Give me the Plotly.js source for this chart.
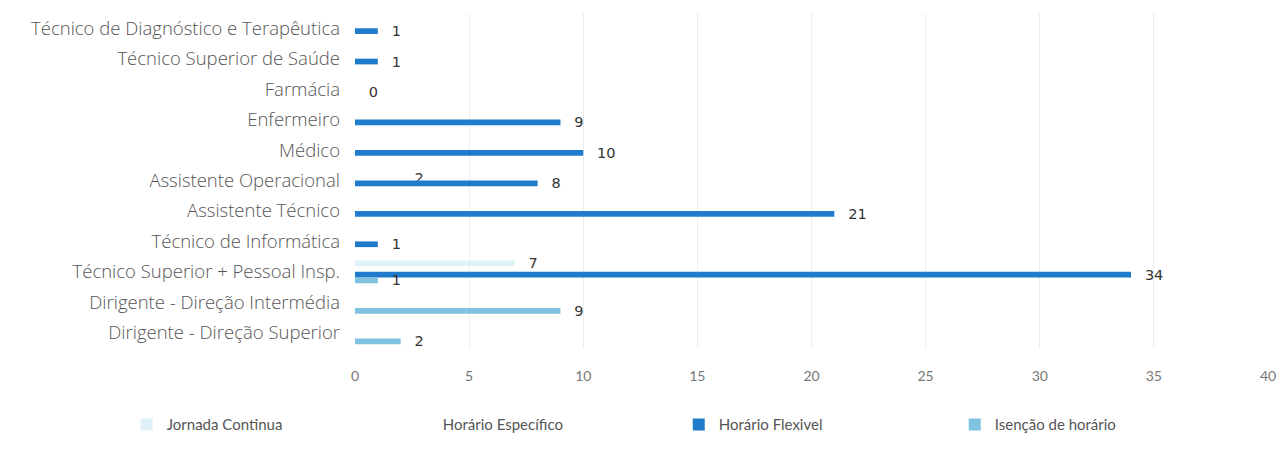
<!DOCTYPE html>
<html>
<head>
<meta charset="utf-8">
<script src="https://cdn.plot.ly/plotly-3.0.1.min.js"></script>
<style>html,body{margin:0;padding:0;background:#fff;}#chart{width:1282px;height:463px;}</style>
</head>
<body>
<div id="chart"></div>
<script>
const categories = [
  "Técnico de Diagnóstico e Terapêutica",
  "Técnico Superior de Saúde",
  "Farmácia",
  "Enfermeiro",
  "Médico",
  "Assistente Operacional",
  "Assistente Técnico",
  "Técnico de Informática",
  "Técnico Superior + Pessoal Insp.",
  "Dirigente - Direção Intermédia",
  "Dirigente - Direção Superior"
];
const jornadaContinua   = [null, null, null, null, null, null, null, null, 7, null, null];
const horarioEspecifico = [null, null, null, null, null, 2, null, null, null, null, null];
const horarioFlexivel   = [1, 1, 0, 9, 10, 8, 21, 1, 34, null, null];
const isencaoHorario    = [null, null, null, null, null, null, null, null, 1, 9, 2];
const seriesNames = ["Jornada Continua", "Horário Específico", "Horário Flexivel", "Isenção de horário"];
const seriesColors = ["#e0f2f7", "#ffffff", "#1f7bcb", "#7fc2e2"];
const xTicks = [0, 5, 10, 15, 20, 25, 30, 35, 40];

const pad = "\u00a0\u00a0\u00a0";
function mk(vals, i) {
  return {
    type: "bar", orientation: "h",
    name: seriesNames[i],
    x: vals, y: categories,
    marker: {color: seriesColors[i]},
    text: vals.map(v => v === null ? "" : pad + v),
    textposition: "outside",
    constraintext: "none",
    cliponaxis: false,
    textfont: {family: "DejaVu Sans", size: 14.5, color: "#333"},
    hoverinfo: "x+name"
  };
}
const data = [mk(jornadaContinua,0), mk(horarioEspecifico,1), mk(horarioFlexivel,2), mk(isencaoHorario,3)];

const layout = {
  width: 1282, height: 463,
  margin: {l: 355, r: 14, t: 13, b: 115},
  paper_bgcolor: "#fff", plot_bgcolor: "#fff",
  barmode: "group", bargap: 0.25, bargroupgap: 0,
  font: {family: "'Open Sans', Lato, sans-serif", color: "#555"},
  xaxis: {
    range: [0, 40], tickvals: xTicks, ticktext: xTicks.map(String),
    showgrid: true, gridcolor: "#eeeeee", zeroline: false, showline: false,
    tickfont: {family: "Lato", size: 14, color: "#777"},
    ticklabelstandoff: 18, fixedrange: true
  },
  yaxis: {
    type: "category", autorange: "reversed",
    showgrid: false, zeroline: false, showline: false,
    tickfont: {family: "'Open Sans'", size: 18.5, color: "#555", weight: 300},
    ticklabelstandoff: 14
  },
  legend: {
    orientation: "h", x: -0.25, xanchor: "left", y: -0.18, yanchor: "top",
    entrywidth: 231, entrywidthmode: "pixels",
    font: {family: "Lato", size: 15, color: "#555"},
    traceorder: "normal"
  },
  showlegend: true
};
Plotly.newPlot("chart", data, layout, {displayModeBar: false, staticPlot: true});
</script>
</body>
</html>
